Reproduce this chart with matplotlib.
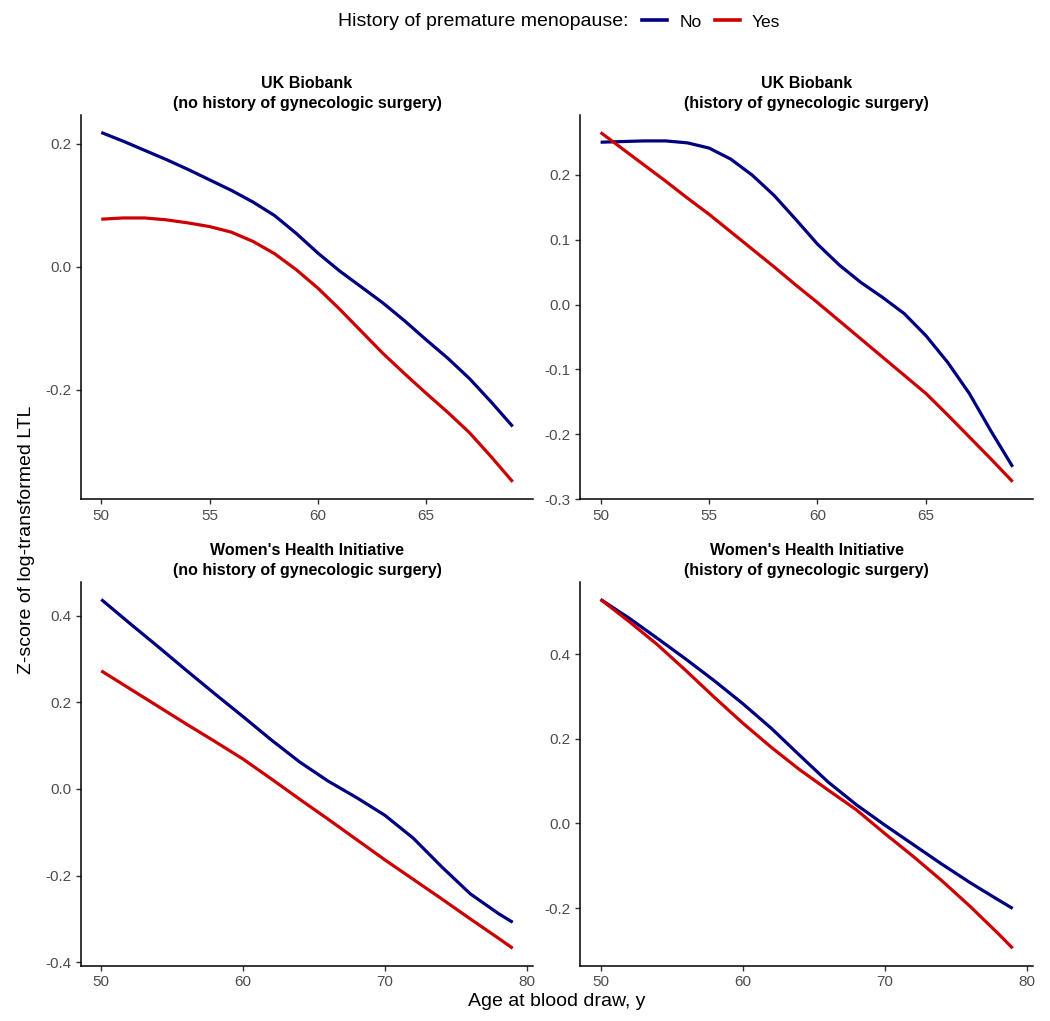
import matplotlib
matplotlib.use("Agg")
import matplotlib.pyplot as plt
from matplotlib.lines import Line2D
import numpy as np

plt.rcParams['font.family'] = ['Liberation Sans', 'DejaVu Sans']

# --- data ---
# UK Biobank, no gynecologic surgery
ukb_ages = [50, 51, 52, 53, 54, 55, 56, 57, 58, 59, 60, 61, 62, 63, 64, 65, 66, 67, 68, 69]
ukb_nosurg_no = [0.218, 0.204, 0.189, 0.174, 0.158, 0.141, 0.124, 0.105, 0.083, 0.054,
                 0.022, -0.007, -0.033, -0.059, -0.088, -0.119, -0.149, -0.182, -0.220, -0.260]
ukb_nosurg_yes = [0.077, 0.079, 0.079, 0.076, 0.071, 0.065, 0.056, 0.041, 0.021, -0.005,
                  -0.035, -0.069, -0.105, -0.141, -0.174, -0.206, -0.237, -0.270, -0.309, -0.350]

# UK Biobank, gynecologic surgery
ukb_surg_no = [0.250, 0.251, 0.252, 0.252, 0.249, 0.241, 0.224, 0.199, 0.168, 0.131,
               0.093, 0.061, 0.034, 0.011, -0.014, -0.048, -0.089, -0.137, -0.195, -0.250]
ukb_surg_yes = [0.265, 0.240, 0.215, 0.190, 0.164, 0.139, 0.112, 0.085, 0.058, 0.030,
                0.003, -0.025, -0.053, -0.081, -0.109, -0.137, -0.170, -0.204, -0.238, -0.273]

# Women's Health Initiative
whi_ages = [50, 52, 54, 56, 58, 60, 62, 64, 66, 68, 70, 72, 74, 76, 78, 79]
whi_nosurg_no = [0.438, 0.383, 0.329, 0.274, 0.220, 0.167, 0.113, 0.062, 0.018, -0.020,
                 -0.061, -0.114, -0.180, -0.242, -0.288, -0.308]
whi_nosurg_yes = [0.273, 0.232, 0.191, 0.150, 0.110, 0.069, 0.023, -0.024, -0.070, -0.117,
                  -0.164, -0.209, -0.254, -0.300, -0.345, -0.368]
whi_surg_no = [0.529, 0.485, 0.437, 0.388, 0.337, 0.283, 0.225, 0.161, 0.098, 0.044,
               -0.004, -0.050, -0.096, -0.140, -0.181, -0.201]
whi_surg_yes = [0.529, 0.477, 0.422, 0.361, 0.298, 0.237, 0.180, 0.127, 0.079, 0.032,
                -0.024, -0.078, -0.135, -0.196, -0.261, -0.295]

titles = ["UK Biobank\n(no history of gynecologic surgery)",
          "UK Biobank\n(history of gynecologic surgery)",
          "Women's Health Initiative\n(no history of gynecologic surgery)",
          "Women's Health Initiative\n(history of gynecologic surgery)"]

panels = [(ukb_ages, ukb_nosurg_no, ukb_nosurg_yes, [-0.2, 0.0, 0.2], [50, 55, 60, 65]),
          (ukb_ages, ukb_surg_no, ukb_surg_yes, [-0.3, -0.2, -0.1, 0.0, 0.1, 0.2], [50, 55, 60, 65]),
          (whi_ages, whi_nosurg_no, whi_nosurg_yes, [-0.4, -0.2, 0.0, 0.2, 0.4], [50, 60, 70, 80]),
          (whi_ages, whi_surg_no, whi_surg_yes, [-0.2, 0.0, 0.2, 0.4], [50, 60, 70, 80])]

col_no = "#000080"
col_yes = "#CC0000"

W, H = 1050, 1021
fig = plt.figure(figsize=(W / 100, H / 100), dpi=100)

# panel boxes in pixels: left, top, right, bottom
boxes = [(80.7, 115, 533.3, 499.3), (580, 115, 1033.3, 499.3),
         (80.7, 582, 533.3, 965.7), (580, 582, 1033.3, 965.7)]

for (l, t, r, b), title, (ages, no, yes, yt, xt) in zip(boxes, titles, panels):
    ax = fig.add_axes([l / W, 1 - b / H, (r - l) / W, (b - t) / H])
    ax.plot(ages, no, color=col_no, lw=2.3, solid_capstyle='butt', solid_joinstyle='round')
    ax.plot(ages, yes, color=col_yes, lw=2.3, solid_capstyle='butt', solid_joinstyle='round')

    # ggplot-style 5% expansion
    x0, x1 = min(ages), max(ages)
    dx = 0.05 * (x1 - x0)
    ax.set_xlim(x0 - dx, x1 + dx)
    allv = np.array(no + yes)
    y0, y1 = allv.min(), allv.max()
    dy = 0.05 * (y1 - y0)
    ax.set_ylim(y0 - dy, y1 + dy)

    ax.set_xticks(xt)
    ax.set_yticks(yt)
    ax.set_yticklabels([f"{v:.1f}" for v in yt])

    for s in ['top', 'right']:
        ax.spines[s].set_visible(False)
    for s in ['left', 'bottom']:
        ax.spines[s].set_linewidth(1.1)
        ax.spines[s].set_color('black')
    ax.tick_params(length=3.5, width=1.0, color='#333333', labelcolor='#4D4D4D',
                   labelsize=11, pad=3.2)
    ax.set_title(title, fontsize=11.5, fontweight='bold', pad=5, linespacing=1.45)

fig.text(27 / W, 1 - 540 / H, "Z-score of log-transformed LTL", rotation=90,
         ha='center', va='center', fontsize=14)
fig.text(557 / W, 1 - 1001 / H, "Age at blood draw, y", ha='center', va='center',
         fontsize=14)

fig.text(628 / W, 1 - 22 / H, "History of premature menopause:", ha='right', va='center',
         fontsize=14)
handles = [Line2D([], [], color=col_no, lw=2.6), Line2D([], [], color=col_yes, lw=2.6)]
fig.legend(handles, ["No", "Yes"], loc='center left', bbox_to_anchor=(642 / W, 1 - 22 / H),
           ncol=2, frameon=False, fontsize=12.5, handlelength=1.45, handletextpad=0.7,
           columnspacing=0.75, borderpad=0, borderaxespad=0)

fig.savefig("out.png", dpi=100)
